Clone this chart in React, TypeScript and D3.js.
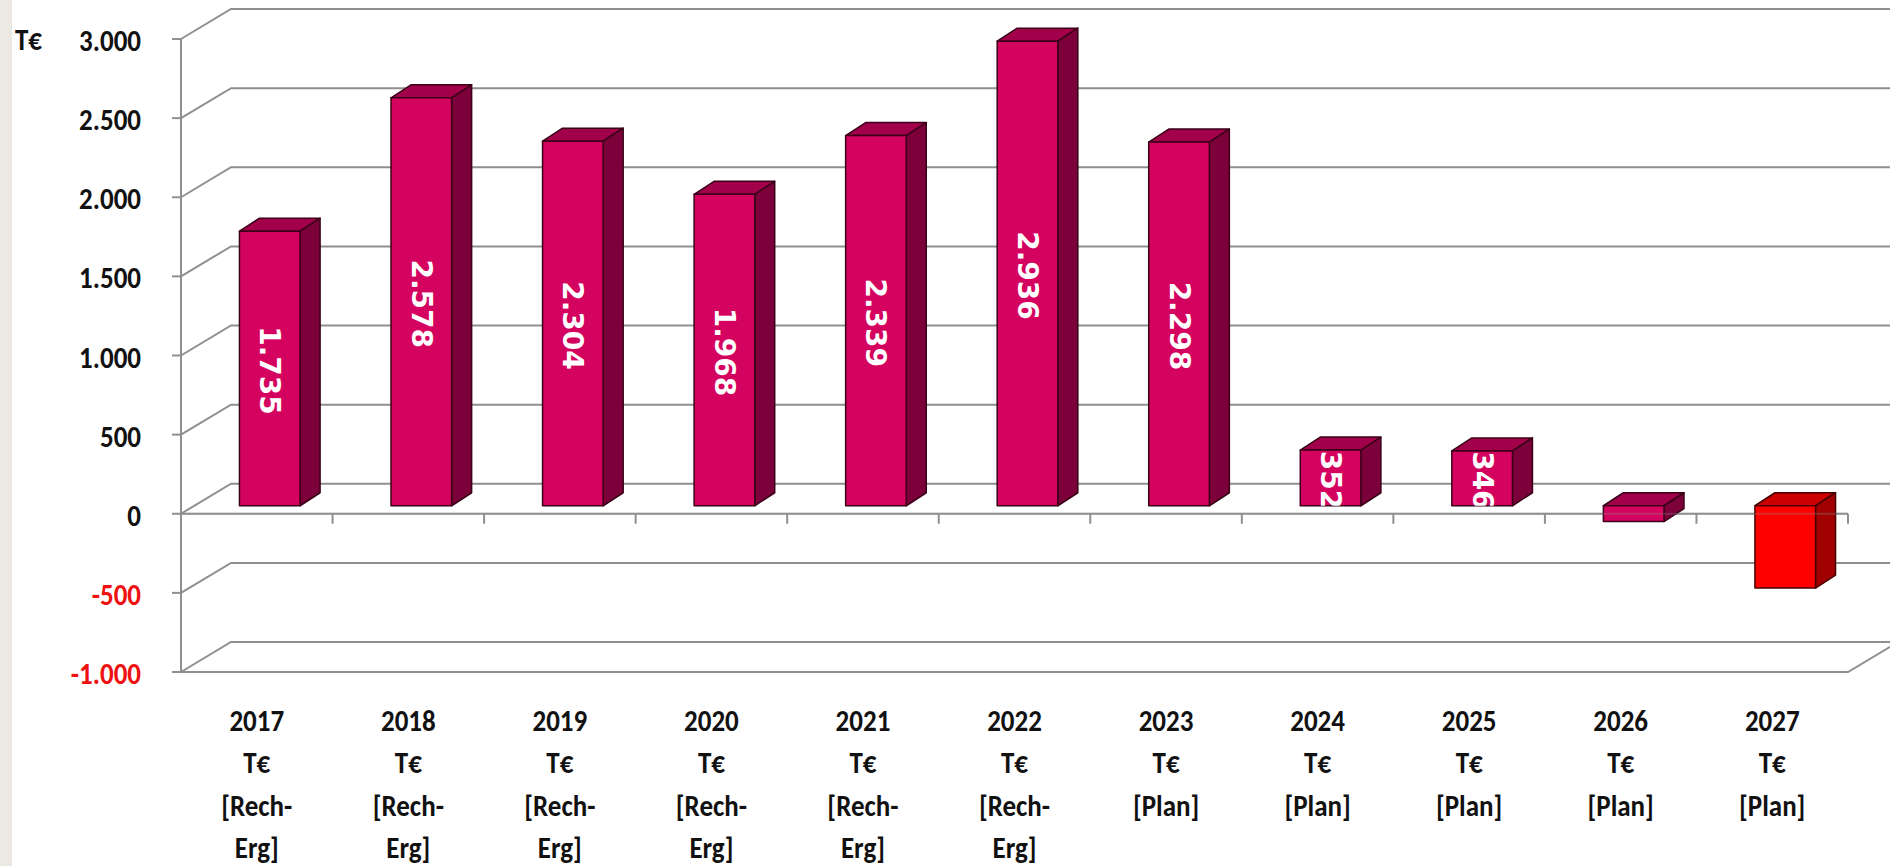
import React from "react";
import * as d3 from "d3";

// categories and values
const years = ["2017", "2018", "2019", "2020", "2021", "2022", "2023", "2024", "2025", "2026", "2027"];
const statusLines = [
  ["[Rech-", "Erg]"],
  ["[Rech-", "Erg]"],
  ["[Rech-", "Erg]"],
  ["[Rech-", "Erg]"],
  ["[Rech-", "Erg]"],
  ["[Rech-", "Erg]"],
  ["[Plan]"],
  ["[Plan]"],
  ["[Plan]"],
  ["[Plan]"],
  ["[Plan]"],
];
const values = [1735, 2578, 2304, 1968, 2339, 2936, 2298, 352, 346, -100, -520];
const redYears = ["2027"];
const unit = "T€";
const yDomain = [-1000, 3000];

const W = 1890;
const H = 866;
const LABEL_FONT = "Carlito, Lato, 'Open Sans', sans-serif";
const LABEL_SIZE = 30;
const SX = 0.9; // narrow the label font a little, Calibri-like

const de = d3.formatLocale({ decimal: ",", thousands: ".", grouping: [3], currency: ["", "€"], minus: "-" });
const fmt = de.format(",d");

export default function App() {
  const left = 181;
  const right = 1848;
  const wall = { dx: 50, dy: -30 }; // front plane -> back wall
  const face = { dx: 13, dy: -8 }; // front plane -> bar front face
  const depth = { dx: 20, dy: -13 }; // bar depth

  const x = d3.scaleBand().domain(years).range([left, right]).padding(0);
  const y = d3.scaleLinear().domain(yDomain).range([672, 39]);
  const ticks = d3.range(yDomain[0], yDomain[1] + 1, 500);
  const bw = x.bandwidth();
  const barW = bw * 0.4;
  const y0 = y(0);
  const grid = "#8f8f8f";

  const bars = years.map((yr, i) => {
    const v = values[i];
    const x0 = (x(yr) as number) + (bw - barW) / 2 + face.dx;
    const x1 = x0 + barW;
    const top = y(Math.max(v, 0)) + face.dy;
    const bot = y(Math.min(v, 0)) + face.dy;
    const red = redYears.includes(yr);
    return { yr, v, x0, x1, top, bot, red, i };
  });

  const pts = (a: number[][]) => a.map((p) => p.join(",")).join(" ");

  return (
    <svg width={W} height={H} style={{ position: "absolute", left: 0, top: 0, background: "#fff" }}>
      <rect x={0} y={0} width={12} height={H} fill="#ECE9E2" />
      <defs>
        {bars.map((b) => (
          <clipPath id={`clip${b.i}`} key={b.i}>
            <rect x={b.x0} y={b.top} width={b.x1 - b.x0} height={b.bot - b.top} />
          </clipPath>
        ))}
      </defs>

      {/* back wall gridlines with side diagonals */}
      {ticks.map((t) => (
        <g key={t} stroke={grid} strokeWidth={2} fill="none">
          <line x1={left - 9} x2={left} y1={y(t)} y2={y(t)} />
          <polyline points={pts([[left, y(t)], [left + wall.dx, y(t) + wall.dy], [W + 20, y(t) + wall.dy]])} />
        </g>
      ))}
      {/* floor front edge */}
      <polyline
        points={pts([[left, y(yDomain[0])], [right, y(yDomain[0])], [right + wall.dx, y(yDomain[0]) + wall.dy]])}
        stroke={grid}
        strokeWidth={2}
        fill="none"
      />
      {/* value axis */}
      <line x1={left} x2={left} y1={y(yDomain[1])} y2={y(yDomain[0])} stroke={grid} strokeWidth={2} />

      {/* category axis at zero */}
      <line x1={left} x2={right} y1={y0} y2={y0} stroke={grid} strokeWidth={2} />
      {years.map((yr) => (
        <line key={yr} x1={(x(yr) as number) + bw} x2={(x(yr) as number) + bw} y1={y0} y2={y0 + 10} stroke={grid} strokeWidth={2} />
      ))}

      {/* bars */}
      {bars.map((b) => {
        const cFront = b.red ? "#FF0000" : "#D4035F";
        const cTop = b.red ? "#CC0000" : "#A3004C";
        const cSide = b.red ? "#A00000" : "#7C0039";
        const edge = b.red ? "#4a0000" : "#3A0018";
        return (
          <g key={b.yr} stroke={edge} strokeWidth={1.5} strokeLinejoin="round">
            <polygon
              points={pts([[b.x0, b.top], [b.x1, b.top], [b.x1 + depth.dx, b.top + depth.dy], [b.x0 + depth.dx, b.top + depth.dy]])}
              fill={cTop}
            />
            <polygon
              points={pts([[b.x1, b.top], [b.x1 + depth.dx, b.top + depth.dy], [b.x1 + depth.dx, b.bot + depth.dy], [b.x1, b.bot]])}
              fill={cSide}
            />
            <rect x={b.x0} y={b.top} width={b.x1 - b.x0} height={b.bot - b.top} fill={cFront} />
            {b.v > 0 && (
              <g clipPath={`url(#clip${b.i})`}>
                <text
                  transform={`translate(${(b.x0 + b.x1) / 2},${(b.top + b.bot) / 2 + 2}) rotate(90)`}
                  textAnchor="middle"
                  dominantBaseline="central"
                  fill="#fff"
                  stroke="none"
                  fontFamily="'DejaVu Sans', Verdana, sans-serif"
                  fontWeight="bold"
                  fontSize={28}
                >
                  {fmt(b.v)}
                </text>
              </g>
            )}
          </g>
        );
      })}

      {/* zero line seen faintly in front of the negative bars */}
      <line x1={left} x2={right} y1={y0} y2={y0} stroke={grid} strokeWidth={2} strokeOpacity={0.3} />

      {/* value tick labels */}
      <text
        transform={`translate(15,${y(yDomain[1]) + 11}) scale(${SX},1)`}
        fontFamily={LABEL_FONT}
        fontWeight="bold"
        fontSize={LABEL_SIZE}
        fill="#111"
      >
        {unit}
      </text>
      {ticks.map((t) => (
        <text
          key={t}
          transform={`translate(141,${y(t) + 12}) scale(${SX},1)`}
          textAnchor="end"
          fontFamily={LABEL_FONT}
          fontWeight="bold"
          fontSize={LABEL_SIZE}
          fill={t < 0 ? "#EE1111" : "#111"}
        >
          {fmt(t)}
        </text>
      ))}

      {/* category labels */}
      {years.map((yr, i) => {
        const cx = (x(yr) as number) + bw / 2;
        const lines = [yr, unit, ...statusLines[i]];
        return (
          <text
            key={yr}
            transform={`translate(${cx},0) scale(${SX},1)`}
            textAnchor="middle"
            fontFamily={LABEL_FONT}
            fontWeight="bold"
            fontSize={LABEL_SIZE}
            fill="#111"
          >
            {lines.map((l, k) => (
              <tspan key={k} x={0} y={731 + k * 42.5}>
                {l}
              </tspan>
            ))}
          </text>
        );
      })}
    </svg>
  );
}
